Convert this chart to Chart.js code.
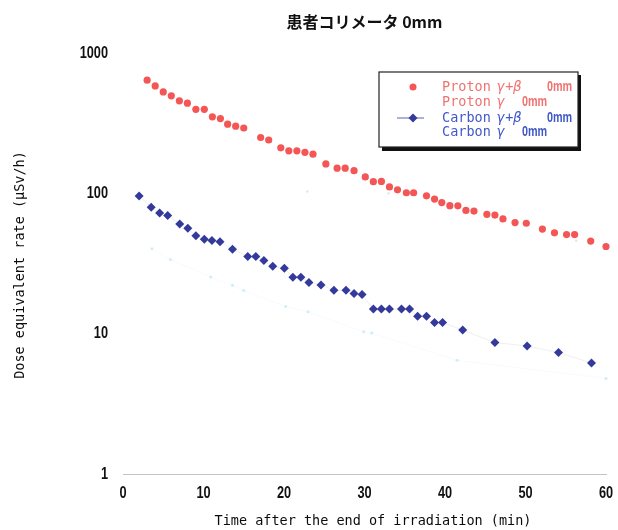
<!DOCTYPE html>
<html>
<head>
<meta charset="utf-8">
<script src="https://cdn.jsdelivr.net/npm/chart.js@4/dist/chart.umd.min.js"></script>
<style>
  html, body { margin: 0; padding: 0; background: #fff; }
  #wrap { position: relative; width: 618px; height: 530px; }
</style>
</head>
<body>
<div id="wrap"><canvas id="c" width="618" height="530"></canvas></div>
<script>
// Time after end of irradiation (min) and dose equivalent rate (µSv/h)
const protonTime = [3, 4, 5, 6, 7, 8, 9.05, 10.1, 11.1, 12.1,
  13, 14, 15, 17.1, 18.1, 19.6, 20.6, 21.6, 22.6, 23.6,
  25.2, 26.6, 27.6, 28.7, 30.1, 31.1, 32.1, 33.1, 34.1, 35.2,
  36.1, 37.7, 38.7, 39.6, 40.6, 41.6, 42.6, 43.6, 45.2, 46.2,
  47.2, 48.7, 50.1, 52.1, 53.6, 55.1, 56.1, 58.1, 60];
const protonGammaBeta = [640, 583, 528, 495, 456, 439, 397, 397, 351, 341,
  311, 301, 292, 250, 240, 211, 201, 201, 196, 190,
  162, 151, 151, 145, 131, 121, 121.5, 111, 106, 101,
  101, 96, 91, 86, 81.7, 81.5, 75.5, 74.7, 70.9, 70,
  65.7, 61.9, 61.2, 55.6, 52.3, 50.8, 50.8, 45.7, 41.8];

const protonGammaTime = [22.9, 33.0, 56.3];
const protonGamma = [103, 100, 46];

const carbonTime = [2.0, 3.5, 4.55, 5.55, 7.05, 8.05, 9.05, 10.1, 11.05, 12.05,
  13.6, 15.5, 16.5, 17.5, 18.6, 20.05, 21.1, 22.1, 23.1, 24.6,
  26.2, 27.7, 28.7, 29.7, 31.1, 32.1, 33.1, 34.6, 35.6, 36.6,
  37.7, 38.7, 39.7, 42.2, 46.2, 50.2, 54.1, 58.2];
const carbonGammaBeta = [95.9, 79.5, 72.5, 69.4, 60.4, 56.4, 49.8, 47.0, 46.1, 45.2,
  40.0, 35.5, 35.5, 33.2, 30.2, 29.3, 25.2, 25.2, 23.2, 22.2,
  20.4, 20.4, 19.3, 19.0, 15.0, 15.0, 15.0, 15.0, 15.0, 13.3,
  13.3, 12.0, 12.0, 10.6, 8.64, 8.17, 7.33, 6.18];

const carbonGammaTime = [3.6, 5.9, 10.9, 13.6, 15.0, 20.2, 23.0, 29.9, 30.9, 41.5, 60];
const carbonGamma = [40.2, 33.8, 25.3, 22.1, 20.3, 15.6, 14.3, 10.3, 10.1, 6.46, 4.8];

const xTicks = [0, 10, 20, 30, 40, 50, 60];
const yTicks = [1, 10, 100, 1000];

const chartTitle = '患者コリメータ 0mm';
const xTitle = 'Time after the end of irradiation (min)';
const yTitle = 'Dose equivalent rate (μSv/h)';
const legendRows = [
  { name: 'Proton', kind: 'γ+β', suffix: '0mm' },
  { name: 'Proton', kind: 'γ', suffix: '0mm' },
  { name: 'Carbon', kind: 'γ+β', suffix: '0mm' },
  { name: 'Carbon', kind: 'γ', suffix: '0mm' }
];

const pairs = (xs, ys) => xs.map((x, i) => ({ x, y: ys[i] }));

const RED = '#f45656';
const BLUE = '#343a9c';
const MONO = "'DejaVu Sans Mono', 'Liberation Mono', monospace";
const SANS = "'Liberation Sans', Arial, sans-serif";

// draw text squeezed horizontally, for the narrow gothic digits
function narrowText(ctx, text, x, y, font, squeeze, align) {
  ctx.save();
  ctx.font = font;
  ctx.textBaseline = 'middle';
  ctx.textAlign = align;
  ctx.translate(x, y);
  ctx.scale(squeeze, 1);
  ctx.fillText(text, 0, 0);
  ctx.restore();
}

// Title, tick labels, axis titles and the boxed legend
const decorations = {
  id: 'decorations',
  afterDraw(chart) {
    const ctx = chart.ctx;
    const area = chart.chartArea;
    const xs = chart.scales.x, ys = chart.scales.y;
    ctx.save();
    ctx.fillStyle = '#111';

    // title
    ctx.textAlign = 'center';
    ctx.textBaseline = 'middle';
    ctx.font = "bold 16px 'Noto Sans CJK JP', sans-serif";
    ctx.fillText(chartTitle, (area.left + area.right) / 2, 22);

    // tick labels
    const tickFont = 'bold 17px ' + SANS;
    xTicks.forEach(v => narrowText(ctx, String(v), xs.getPixelForValue(v), 493, tickFont, 0.75, 'center'));
    yTicks.forEach(v => narrowText(ctx, String(v), 108, ys.getPixelForValue(v), tickFont, 0.75, 'right'));

    // axis titles
    ctx.font = '13.5px ' + MONO;
    ctx.fillStyle = '#0c0c0c';
    ctx.textAlign = 'center';
    ctx.fillText(xTitle, 373, 521);
    ctx.save();
    ctx.translate(20, 265);
    ctx.rotate(-Math.PI / 2);
    ctx.fillText(yTitle, 0, 0);
    ctx.restore();

    // legend box with drop shadow
    const bx = 379, by = 72, bw = 199, bh = 75;
    ctx.fillStyle = '#111';
    ctx.fillRect(bx + 3, by + 3, bw, bh + 1);
    ctx.fillStyle = '#fff';
    ctx.fillRect(bx, by, bw, bh);
    ctx.strokeStyle = '#222';
    ctx.lineWidth = 1.2;
    ctx.strokeRect(bx, by, bw, bh);

    const rowY = [87, 102, 118, 132];
    legendRows.forEach((row, i) => {
      const color = row.name === 'Proton' ? '#f07272' : '#4058c8';
      const y = rowY[i];
      ctx.fillStyle = color;
      ctx.textAlign = 'left';
      ctx.textBaseline = 'middle';
      ctx.font = '13.5px ' + MONO;
      ctx.fillText(row.name, 442, y);
      ctx.font = 'italic 13.5px ' + MONO;
      ctx.fillText(row.kind, 497, y);
      narrowText(ctx, row.suffix, row.kind.length > 1 ? 547 : 522, y, 'bold 15px ' + SANS, 0.72, 'left');
    });

    // legend markers
    ctx.fillStyle = RED;
    ctx.beginPath();
    ctx.arc(413, rowY[0], 3.5, 0, Math.PI * 2);
    ctx.fill();

    ctx.strokeStyle = BLUE;
    ctx.lineWidth = 0.8;
    ctx.beginPath();
    ctx.moveTo(397, rowY[2]);
    ctx.lineTo(424, rowY[2]);
    ctx.stroke();
    ctx.fillStyle = BLUE;
    ctx.beginPath();
    ctx.moveTo(413 - 4.5, rowY[2]);
    ctx.lineTo(413, rowY[2] - 4.5);
    ctx.lineTo(413 + 4.5, rowY[2]);
    ctx.lineTo(413, rowY[2] + 4.5);
    ctx.closePath();
    ctx.fill();

    ctx.restore();
  }
};

new Chart(document.getElementById('c'), {
  type: 'scatter',
  data: {
    datasets: [
      {
        label: 'Proton γ+β 0mm',
        data: pairs(protonTime, protonGammaBeta),
        showLine: false,
        pointStyle: 'circle',
        pointRadius: 3.6,
        backgroundColor: RED,
        borderColor: RED,
        borderWidth: 0
      },
      {
        label: 'Proton γ 0mm',
        data: pairs(protonGammaTime, protonGamma),
        showLine: false,
        pointRadius: 1.2,
        backgroundColor: 'rgba(200,200,205,0.5)',
        borderWidth: 0
      },
      {
        label: 'Carbon γ+β 0mm',
        data: pairs(carbonTime, carbonGammaBeta),
        showLine: true,
        borderColor: 'rgba(120,120,150,0.12)',
        borderWidth: 1,
        pointStyle: 'rectRot',
        pointRadius: 4.5,
        pointBackgroundColor: BLUE,
        pointBorderColor: BLUE,
        pointBorderWidth: 0
      },
      {
        label: 'Carbon γ 0mm',
        data: pairs(carbonGammaTime, carbonGamma),
        showLine: true,
        borderColor: 'rgba(205,235,244,0.18)',
        borderWidth: 1,
        pointRadius: 1.5,
        pointBackgroundColor: 'rgba(175,222,238,0.55)',
        pointBorderWidth: 0
      }
    ]
  },
  options: {
    responsive: false,
    animation: false,
    devicePixelRatio: 1,
    clip: false,
    layout: { padding: { top: 53, right: 12, left: 0, bottom: 0 } },
    plugins: {
      legend: { display: false },
      title: { display: false },
      tooltip: { enabled: false }
    },
    scales: {
      x: {
        type: 'linear',
        min: 0,
        max: 60,
        afterBuildTicks: s => { s.ticks = xTicks.map(v => ({ value: v })); },
        afterFit: s => { s.height = 56; },
        grid: { display: false, drawTicks: false },
        border: { display: true, color: '#c4c4c4', width: 1 },
        ticks: { display: false }
      },
      y: {
        type: 'logarithmic',
        min: 1,
        max: 1000,
        afterBuildTicks: s => { s.ticks = yTicks.map(v => ({ value: v })); },
        afterFit: s => { s.width = 123; },
        grid: { display: false, drawTicks: false },
        border: { display: false },
        ticks: { display: false }
      }
    }
  },
  plugins: [decorations]
});
</script>
</body>
</html>
